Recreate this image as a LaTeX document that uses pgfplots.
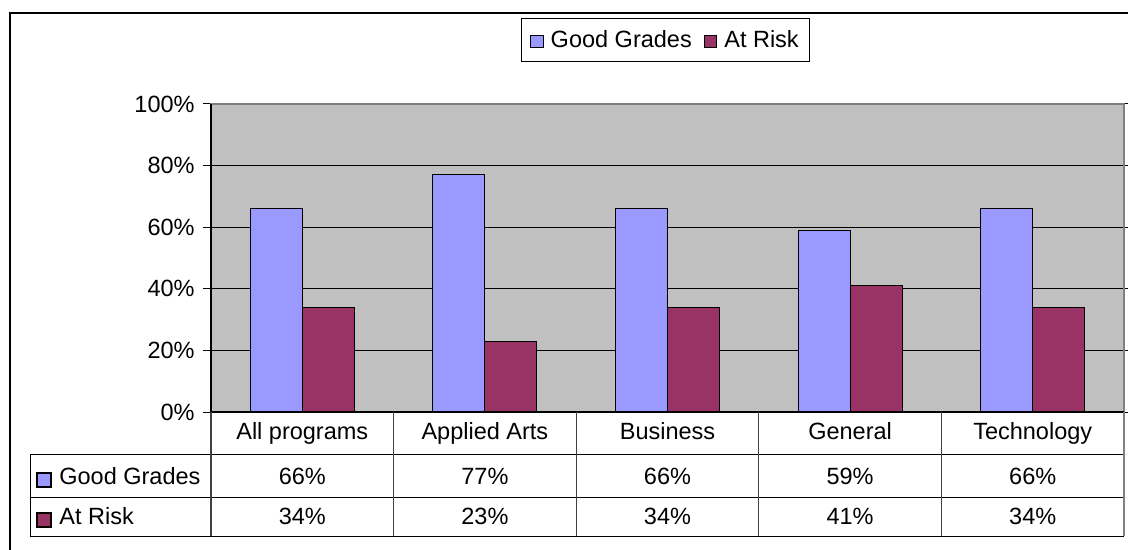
\documentclass[border=0pt]{standalone}
\usepackage{fontspec}
\setmainfont{Liberation Sans}
\usepackage{pgfplots}
\usepackage{pgfplotstable}
\pgfplotsset{compat=1.18}
\definecolor{gg}{HTML}{9999FF}
\definecolor{ar}{HTML}{993366}
\definecolor{pa}{HTML}{C0C0C0}
\definecolor{bd}{HTML}{808080}
\pgfplotstableread{
x gg ar
0 66 34
1 77 23
2 66 34
3 59 41
4 66 34
}\data
\begin{document}
\begin{tikzpicture}[font=\fontsize{11.75}{14}\selectfont]
\path[use as bounding box] (0,0) rectangle (564pt,-275pt);
\begin{axis}[
  at={(105.5pt,-206pt)}, anchor=south west,
  scale only axis, width=456.5pt, height=154pt,
  xmin=-0.5, xmax=4.5, ymin=0, ymax=100,
  ybar=0pt, bar width=26pt,
  axis background/.style={fill=pa},
  axis line style={draw=bd, line width=1pt},
  ytick={0,20,...,100}, yticklabels={0\%,20\%,40\%,60\%,80\%,100\%},
  ymajorgrids, grid style={black, line width=0.5pt},
  tick align=outside, major tick length=4pt,
  ytick style={black, line width=0.5pt},
  yticklabel style={inner xsep=4pt},
  xtick={0,1,2,3,4},
  xticklabels={All programs, Applied Arts, Business, General, Technology},
  xtick style={draw=none},
  xticklabel style={anchor=base, inner sep=0pt, yshift=-9.5pt},
  legend columns=2,
  legend image code/.code={\draw[#1,draw=black,line width=0.5pt] (0pt,-4pt) rectangle (6.25pt,2.25pt);},
  legend style={at={(0.4978,1.2078)}, anchor=center, draw=black, line width=0.5pt,
    inner xsep=4.5pt, inner ysep=4.5pt,
    nodes={inner sep=1pt},
    /tikz/every odd column/.append style={column sep=2.5pt},
    /tikz/every even column/.append style={column sep=5pt}},
  after end axis/.code={\draw[black,line width=0.75pt] (rel axis cs:0,1) -- (rel axis cs:0,0) -- (rel axis cs:1,0);},
]
\addplot[fill=gg, draw=black, line width=0.5pt] table[x=x,y=gg] {\data};
\addplot[fill=ar, draw=black, line width=0.5pt] table[x=x,y=ar] {\data};
\legend{Good Grades, At Risk}
\end{axis}
\begin{scope}[x=0.5pt,y=-0.5pt]
\draw[line width=1.1pt] (10,600) -- (10,13) -- (1200,13);
\draw[black, line width=0.5pt] (30,454) -- (1124,454) (30,497) -- (1124,497) (30,536) -- (1124,536) (30,454) -- (30,536);
\foreach \x in {211,393.6,576.2,758.8,941.4} {\draw[black!75, line width=0.6pt] (\x,412) -- (\x,536);}
\draw[bd, line width=1pt] (1124,412) -- (1124,536);
\draw[fill=gg, line width=0.6pt] (37,473) rectangle (51,487);
\draw[fill=ar, line width=0.6pt] (37,513) rectangle (51,527);
\node[anchor=base west, inner sep=0pt] at (59,484) {Good Grades};
\node[anchor=base west, inner sep=0pt] at (59,524) {At Risk};
\foreach \x/\a/\b in {302.3/66/34, 484.9/77/23, 667.5/66/34, 850.1/59/41, 1032.7/66/34} {
  \node[anchor=base, inner sep=0pt] at (\x,484) {\a\%};
  \node[anchor=base, inner sep=0pt] at (\x,524) {\b\%};
}
\end{scope}
\end{tikzpicture}
\end{document}
